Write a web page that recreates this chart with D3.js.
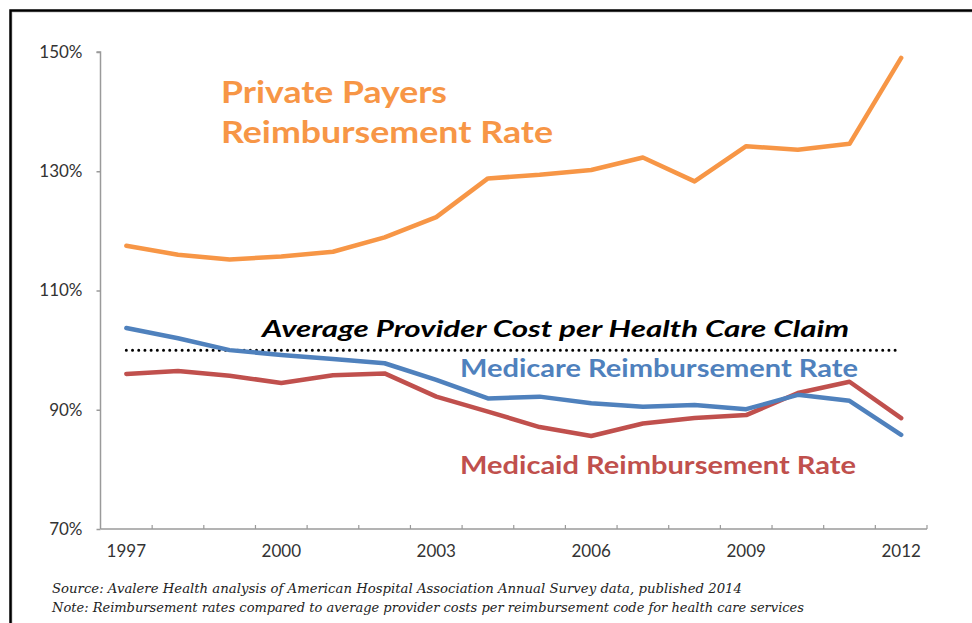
<!DOCTYPE html>
<html>
<head>
<meta charset="utf-8">
<script src="https://cdn.jsdelivr.net/npm/d3@7"></script>
<style>
  html, body { margin: 0; padding: 0; background: #ffffff; }
  svg { display: block; }
</style>
</head>
<body>
<svg id="chart" width="972" height="623"></svg>
<script>
// ---- Data ----
const years = [1997,1998,1999,2000,2001,2002,2003,2004,2005,2006,2007,2008,2009,2010,2011,2012];
const privatePayers = [117.5,116.0,115.2,115.7,116.5,118.9,122.3,128.8,129.4,130.2,132.3,128.3,134.2,133.6,134.6,149.0];
const medicare = [103.7,102.0,100.0,99.2,98.5,97.8,95.0,91.9,92.2,91.1,90.5,90.8,90.1,92.5,91.5,85.8];
const medicaid = [96.0,96.5,95.7,94.5,95.8,96.1,92.2,89.7,87.1,85.6,87.7,88.6,89.1,92.8,94.7,88.6];
const costLine = 100;
const yTicks = [70, 90, 110, 130, 150];
const xLabelYears = [1997, 2000, 2003, 2006, 2009, 2012];
const seriesLabels = {
  privateLine1: "Private Payers",
  privateLine2: "Reimbursement Rate",
  cost: "Average Provider Cost per Health Care Claim",
  medicare: "Medicare Reimbursement Rate",
  medicaid: "Medicaid Reimbursement Rate"
};
const notes = [
  "Source: Avalere Health analysis of American Hospital Association Annual Survey data, published 2014",
  "Note: Reimbursement rates compared to average provider costs per reimbursement code for health care services"
];

(function () {
// ---- Layout ----
const svg = d3.select("#chart");
const pLeft = 100.5, pRight = 927, pTop = 52, pBottom = 529;
const colors = { orange: "#f79646", blue: "#4f81bd", red: "#c0504d" };
const labelFont = "'Lato', 'DejaVu Sans', sans-serif";

// Frame
svg.append("rect").attr("x", 11.5).attr("y", 11.5).attr("width", 980).attr("height", 660)
  .attr("fill", "none").attr("stroke", "#c8c8c8").attr("stroke-width", 2);
svg.append("rect").attr("x", 10.5).attr("y", 10.5).attr("width", 980).attr("height", 660)
  .attr("fill", "none").attr("stroke", "#000").attr("stroke-width", 2.5);

const x = d3.scaleBand().domain(years).range([pLeft, pRight]).padding(0);
const y = d3.scaleLinear().domain([70, 150]).range([pBottom, pTop]);
const cx = d => x(d) + x.bandwidth() / 2;

// Y axis
const yAxis = svg.append("g").attr("transform", `translate(${pLeft},0)`)
  .call(d3.axisLeft(y).tickValues(yTicks).tickSize(4).tickPadding(14).tickFormat(d => d + "%"));
yAxis.select(".domain").attr("stroke", "#9a9a9a").attr("stroke-width", 1.5).attr("d", `M-4,${pTop}H0V${pBottom}`);
yAxis.selectAll(".tick line").attr("stroke", "#9a9a9a").attr("stroke-width", 1.5);
yAxis.selectAll(".tick text").attr("font-family", labelFont).attr("font-size", 17)
  .attr("fill", "#333");

// X axis with ticks at band boundaries
const xAxisG = svg.append("g").attr("transform", `translate(0,${pBottom})`);
xAxisG.append("line").attr("x1", pLeft).attr("x2", pRight).attr("y1", 0).attr("y2", 0)
  .attr("stroke", "#9a9a9a").attr("stroke-width", 1.5);
const boundaries = years.slice(1).map(d => x(d)).concat([pRight]);
xAxisG.selectAll("line.tk").data(boundaries).join("line").attr("class", "tk")
  .attr("x1", d => d).attr("x2", d => d).attr("y1", 0).attr("y2", -4)
  .attr("stroke", "#9a9a9a").attr("stroke-width", 1.2);
xAxisG.selectAll("text").data(xLabelYears).join("text")
  .attr("x", d => cx(d)).attr("y", 28).attr("text-anchor", "middle")
  .attr("font-family", labelFont).attr("font-size", 17).attr("fill", "#333").text(d => d);

// Dotted cost line
svg.append("line").attr("x1", cx(1997)).attr("x2", cx(2012)).attr("y1", y(costLine)).attr("y2", y(costLine))
  .attr("stroke", "#000").attr("stroke-width", 3).attr("stroke-dasharray", "0 6.2").attr("stroke-linecap", "round");

// Lines
const line = d3.line().x((d, i) => cx(years[i])).y(d => y(d));
[[medicaid, colors.red], [medicare, colors.blue], [privatePayers, colors.orange]].forEach(([vals, c]) => {
  svg.append("path").datum(vals).attr("d", line).attr("fill", "none")
    .attr("stroke", c).attr("stroke-width", 4.5).attr("stroke-linejoin", "round").attr("stroke-linecap", "round");
});

// Series labels
function label(txt, xx, yy, size, color, weight, style, len) {
  const t = svg.append("text").attr("x", xx).attr("y", yy).attr("font-family", labelFont)
    .attr("font-size", size).attr("fill", color).attr("font-weight", weight).attr("font-style", style).text(txt);
  if (len) t.attr("textLength", len).attr("lengthAdjust", "spacingAndGlyphs");
  return t;
}
label(seriesLabels.privateLine1, 221, 103, 31, colors.orange, "bold", "normal", 226);
label(seriesLabels.privateLine2, 221, 143, 31, colors.orange, "bold", "normal", 332);
label(seriesLabels.cost, 262, 337, 22, "#000", "bold", "italic", 587);
label(seriesLabels.medicare, 460, 377, 24, colors.blue, "bold", "normal", 398);
label(seriesLabels.medicaid, 460, 474, 24, colors.red, "bold", "normal", 396);

// Notes
notes.forEach((n, i) => {
  svg.append("text").attr("x", 52).attr("y", 593 + i * 19)
    .attr("font-family", "'DejaVu Serif', serif").attr("font-style", "italic")
    .attr("font-size", 12.5).attr("fill", "#222").text(n)
    .attr("textLength", i === 0 ? 690 : 752).attr("lengthAdjust", "spacingAndGlyphs");
});
})();
</script>
</body>
</html>
